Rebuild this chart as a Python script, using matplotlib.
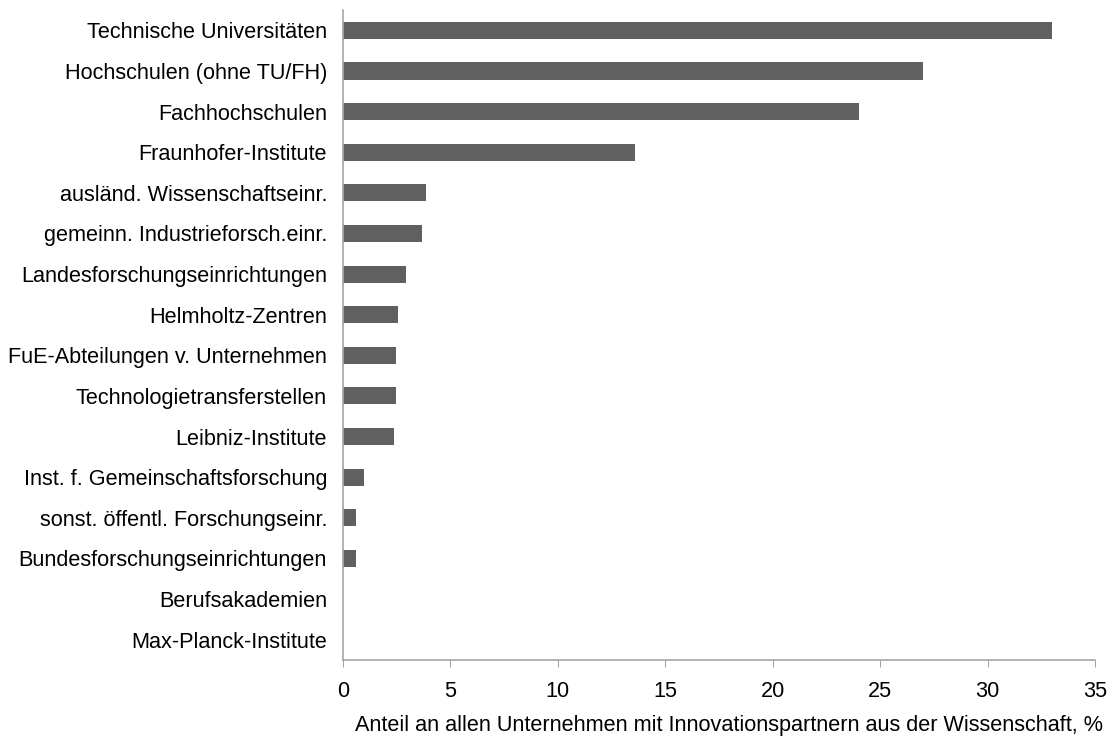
import matplotlib
matplotlib.use("Agg")
import matplotlib.pyplot as plt

plt.rcParams['font.family'] = ['Liberation Sans', 'DejaVu Sans']

categories = ['Technische Universitäten', 'Hochschulen (ohne TU/FH)', 'Fachhochschulen',
              'Fraunhofer-Institute', 'ausländ. Wissenschaftseinr.', 'gemeinn. Industrieforsch.einr.',
              'Landesforschungseinrichtungen', 'Helmholtz-Zentren', 'FuE-Abteilungen v. Unternehmen',
              'Technologietransferstellen', 'Leibniz-Institute', 'Inst. f. Gemeinschaftsforschung',
              'sonst. öffentl. Forschungseinr.', 'Bundesforschungseinrichtungen', 'Berufsakademien',
              'Max-Planck-Institute']
values = [33.0, 27.0, 24.0, 13.6, 3.85, 3.66, 2.92, 2.55, 2.45, 2.45, 2.36, 0.96, 0.59, 0.59, 0.0, 0.0]
xticks = [0, 5, 10, 15, 20, 25, 30, 35]

fs = 15.6

fig = plt.figure(figsize=(11.1, 7.38), dpi=100)
ax = fig.add_axes([0.309, 0.1057, 0.6775, 0.8807])

pos = list(range(len(categories)))
ax.barh(pos, values, height=0.42, color='#606060')
ax.set_yticks(pos)
ax.set_yticklabels(categories, fontsize=fs)
ax.set_ylim(len(categories) - 0.5, -0.5)
ax.set_xlim(0, 35)
ax.set_xticks(xticks)
ax.set_xticklabels([str(t) for t in xticks], fontsize=fs)
ax.set_xlabel('Anteil an allen Unternehmen mit Innovationspartnern aus der Wissenschaft, %',
              fontsize=fs)
ax.xaxis.set_label_coords(0.513, -0.085)

for s in ['top', 'right']:
    ax.spines[s].set_visible(False)
for s in ['left', 'bottom']:
    ax.spines[s].set_color('#a6a6a6')
    ax.spines[s].set_linewidth(1.2)
ax.tick_params(axis='y', length=0, pad=11.5)
ax.tick_params(axis='x', length=5, color='#a6a6a6', pad=10)

plt.savefig('out.png', dpi=100)
